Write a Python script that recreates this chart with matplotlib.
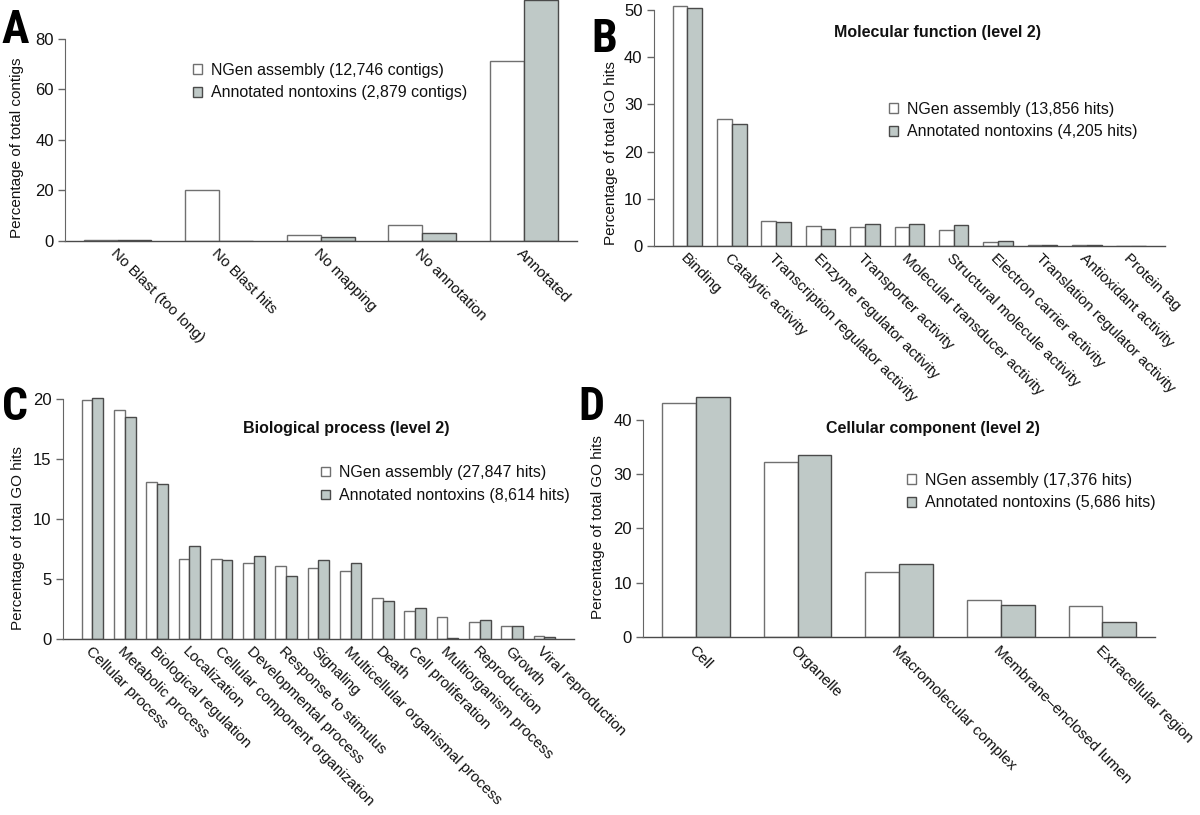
#!/usr/bin/env python3
'''
Four-panel GO / annotation bar chart (NGen assembly vs annotated nontoxins)
'''
import matplotlib
matplotlib.use('Agg')
import matplotlib.pyplot as plt
from matplotlib import font_manager
from matplotlib.patches import Patch

W, H = 1200, 815

# panel A
a_cats = ['No Blast (too long)', 'No Blast hits', 'No mapping', 'No annotation', 'Annotated']
a_ngen = [0.4, 20.2, 2.2, 6.2, 71.0]
a_annot = [0.3, 0.05, 1.5, 3.3, 95.3]

# panel B
b_cats = ['Binding', 'Catalytic activity', 'Transcription regulator activity',
          'Enzyme regulator activity', 'Transporter activity', 'Molecular transducer activity',
          'Structural molecule activity', 'Electron carrier activity',
          'Translation regulator activity', 'Antioxidant activity', 'Protein tag']
b_ngen = [50.9, 27.0, 5.4, 4.2, 4.0, 3.95, 3.3, 0.8, 0.3, 0.2, 0.05]
b_annot = [50.4, 25.9, 5.0, 3.5, 4.6, 4.6, 4.4, 1.0, 0.3, 0.3, 0.05]

# panel C
c_cats = ['Cellular process', 'Metabolic process', 'Biological regulation', 'Localization',
          'Cellular component organization', 'Developmental process', 'Response to stimulus',
          'Signaling', 'Multicellular organismal process', 'Death', 'Cell proliferation',
          'Multiorganism process', 'Reproduction', 'Growth', 'Viral reproduction']
c_ngen = [19.9, 19.1, 13.1, 6.7, 6.65, 6.3, 6.1, 5.95, 5.7, 3.45, 2.3, 1.8, 1.4, 1.05, 0.25]
c_annot = [20.1, 18.5, 12.95, 7.8, 6.6, 6.9, 5.25, 6.55, 6.3, 3.2, 2.6, 0.1, 1.55, 1.1, 0.2]

# panel D
d_cats = ['Cell', 'Organelle', 'Macromolecular complex', 'Membrane\u2013enclosed lumen',
          'Extracellular region']
d_ngen = [43.1, 32.3, 12.0, 6.9, 5.8]
d_annot = [44.2, 33.5, 13.4, 6.0, 2.9]

GRAY = '#bfc9c7'
EDGE_W = '#707070'
EDGE_G = '#4a4a4a'
AXIS = '#4a4a4a'
TXT = '#111111'

plt.rcParams['font.family'] = ['Liberation Sans', 'DejaVu Sans']


def letter_font():
    '''
    use a narrow face for the panel letters when one is installed
    '''
    for fam in ['Liberation Sans Narrow', 'Roboto Condensed', 'DejaVu Sans Condensed']:
        try:
            font_manager.findfont(font_manager.FontProperties(family=fam),
                                  fallback_to_default=False)
            return [fam, 'Liberation Sans'], 33
        except ValueError:
            pass
    return ['Liberation Sans', 'DejaVu Sans'], 28


def px_axes(fig, left, right, y0, top):
    '''
    add an axes from pixel coordinates (y measured from the image top)
    '''
    ax = fig.add_axes([left / W, 1 - y0 / H, (right - left) / W, (y0 - top) / H])
    ax.patch.set_visible(False)
    return ax


def draw_panel(ax, cats, ngen, annot, yticks, ytop, labels):
    '''
    draw one panel of paired bars in R barplot style (space = c(0, 1))
    '''
    n = len(cats)
    pad = 0.04 * (3 * n - 1)
    xs = [1.5 + 3 * i for i in range(n)]
    ax.bar(xs, ngen, width=1, color='white', edgecolor=EDGE_W, linewidth=1.0)
    ax.bar([x + 1 for x in xs], annot, width=1, color=GRAY, edgecolor=EDGE_G, linewidth=1.0)
    ax.set_xlim(1 - pad, 3 * n + pad)
    ax.set_ylim(0, ytop)
    for side in ['top', 'right', 'bottom']:
        ax.spines[side].set_visible(False)
    ax.spines['left'].set_bounds(yticks[0], yticks[-1])
    ax.spines['left'].set_color('#666666')
    ax.axhline(0, color=AXIS, linewidth=1.0, clip_on=False)
    ax.set_xticks([])
    ax.set_yticks(yticks)
    ax.tick_params(axis='y', direction='out', length=5, width=1.0, color='#666666',
                   labelsize=12, pad=3, labelcolor=TXT)
    for x, cat in zip(xs, cats):
        ax.annotate(cat, xy=(x + 0.5, 0), xytext=(0, -4), textcoords='offset points',
                    rotation=-45, ha='left', va='top', rotation_mode='anchor',
                    fontsize=11, color=TXT, annotation_clip=False)
    handles = [Patch(facecolor='white', edgecolor=EDGE_W, linewidth=1.0, label=labels[0]),
               Patch(facecolor=GRAY, edgecolor=EDGE_G, linewidth=1.0, label=labels[1])]
    return handles


def main():
    '''
    build the figure
    '''
    fig = plt.figure(figsize=(W / 100, H / 100), dpi=100)
    lfam, lsize = letter_font()

    panels = [
        (a_cats, a_ngen, a_annot, [0, 20, 40, 60, 80], (64.8, 576.6, 241, 0), 95.3,
         ('NGen assembly (12,746 contigs)', 'Annotated nontoxins (2,879 contigs)'),
         'Percentage of total contigs', (17, 148), 'A', (2, 25.5), None, (193, 81.5)),
        (b_cats, b_ngen, b_annot, [0, 10, 20, 30, 40, 50], (653.6, 1165, 246, 0), 52.1,
         ('NGen assembly (13,856 hits)', 'Annotated nontoxins (4,205 hits)'),
         'Percentage of total GO hits', (611, 153), 'B', (591, 34),
         ('Molecular function (level 2)', (938, 33)), (889, 120.5)),
        (c_cats, c_ngen, c_annot, [0, 5, 10, 15, 20], (62.8, 574, 639, 387.3), 21.0,
         ('NGen assembly (27,847 hits)', 'Annotated nontoxins (8,614 hits)'),
         'Percentage of total GO hits', (18, 538), 'C', (2, 402),
         ('Biological process (level 2)', (346, 428)), (321, 484)),
        (d_cats, d_ngen, d_annot, [0, 10, 20, 30, 40], (643, 1155.3, 637.3, 387), 46.0,
         ('NGen assembly (17,376 hits)', 'Annotated nontoxins (5,686 hits)'),
         'Percentage of total GO hits', (598, 527), 'D', (578, 402),
         ('Cellular component (level 2)', (933, 428)), (907, 491.5)),
    ]

    for (cats, ngen, annot, yticks, box, ytop, labels, ylab, ylab_xy, letter,
         letter_xy, title, leg_xy) in panels:
        ax = px_axes(fig, *box)
        handles = draw_panel(ax, cats, ngen, annot, yticks, ytop, labels)
        fig.text(ylab_xy[0] / W, 1 - ylab_xy[1] / H, ylab, rotation=90, ha='center',
                 va='center', fontsize=11, color=TXT)
        fig.text(letter_xy[0] / W, 1 - letter_xy[1] / H, letter, ha='left',
                 va='center_baseline', fontsize=lsize, fontweight='bold', color='black',
                 family=lfam)
        if title:
            fig.text(title[1][0] / W, 1 - title[1][1] / H, title[0], ha='center',
                     va='center', fontsize=11.5, fontweight='bold', color=TXT)
        leg = ax.legend(handles=handles, loc='center left', frameon=False,
                        bbox_to_anchor=(leg_xy[0] / W, 1 - leg_xy[1] / H),
                        bbox_transform=fig.transFigure, fontsize=11.5,
                        handlelength=0.55, handleheight=0.55, handletextpad=0.6,
                        labelspacing=0.5, borderpad=0, borderaxespad=0)
        for t in leg.get_texts():
            t.set_color(TXT)

    fig.savefig('out.png', dpi=100)


if __name__ == '__main__':
    main()
